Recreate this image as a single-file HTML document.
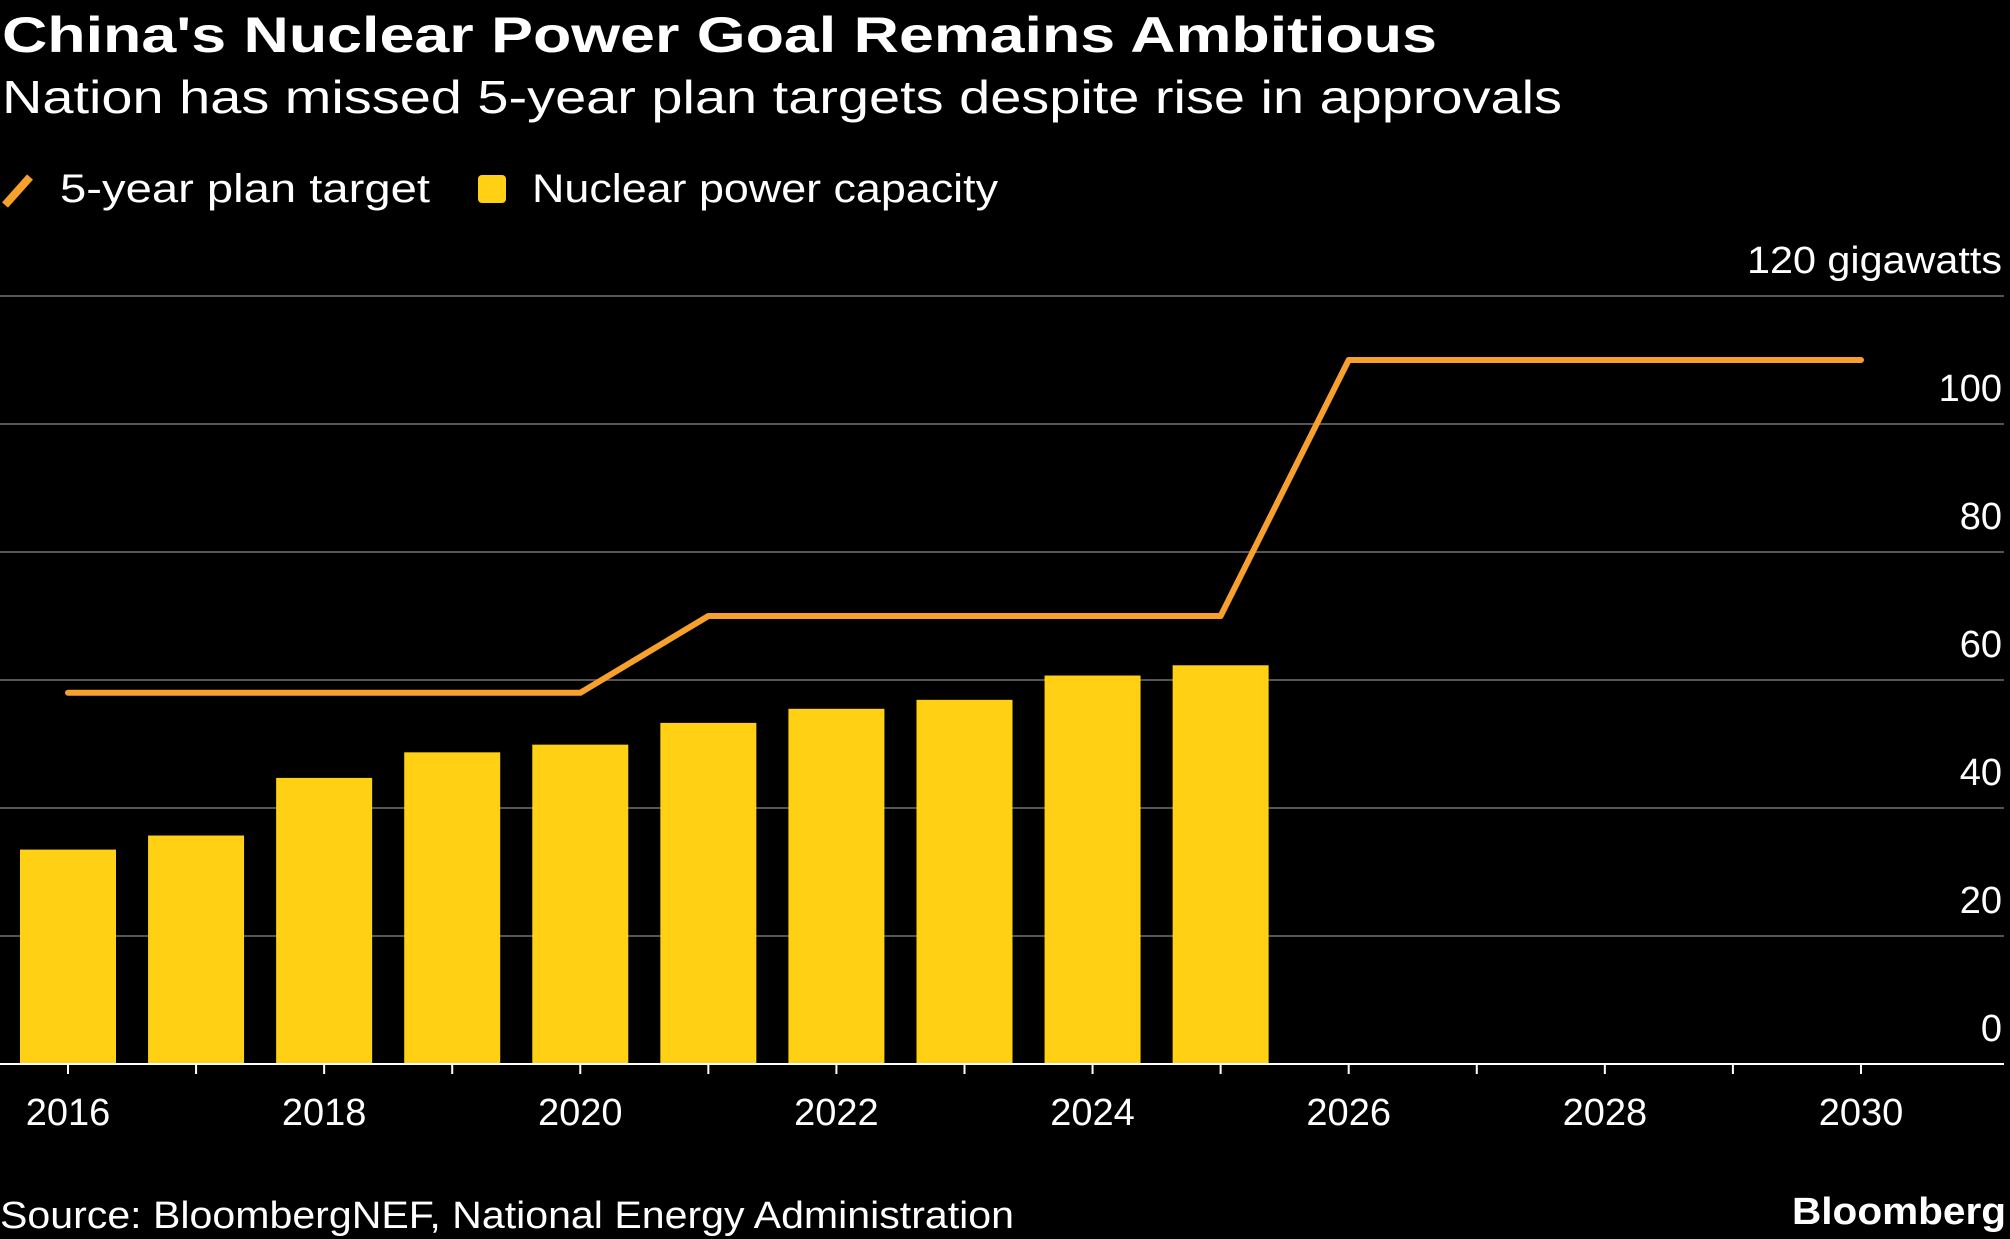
<!DOCTYPE html>
<html><head><meta charset="utf-8"><style>
body{margin:0;background:#000;width:2010px;height:1239px;overflow:hidden;font-family:"Liberation Sans",sans-serif;color:#fff}
svg{position:absolute;left:0;top:0}
</style></head><body>
<svg width="2010" height="1239">
<text x="2" y="52" font-size="50" font-weight="bold" fill="#fff" textLength="1435" lengthAdjust="spacingAndGlyphs">China's Nuclear Power Goal Remains Ambitious</text>
<text x="2" y="113" font-size="46" fill="#fff" textLength="1560" lengthAdjust="spacingAndGlyphs">Nation has missed 5-year plan targets despite rise in approvals</text>
<g>
<line x1="5" y1="205" x2="30" y2="177" stroke="#f7a02c" stroke-width="8"/>
<text x="60" y="202" font-size="40" fill="#fff" textLength="370" lengthAdjust="spacingAndGlyphs">5-year plan target</text>
<rect x="478" y="175" width="28" height="28" rx="4" fill="#ffd014"/>
<text x="532" y="202" font-size="40" fill="#fff" textLength="466" lengthAdjust="spacingAndGlyphs">Nuclear power capacity</text>
</g>
<g id="grid"></g><g id="bars"></g><g id="line"></g><g id="axis"></g>
<text x="0" y="1228" font-size="38" fill="#fff" textLength="1014" lengthAdjust="spacingAndGlyphs">Source: BloombergNEF, National Energy Administration</text>
<text x="2006" y="1224" font-size="38" font-weight="bold" fill="#fff" text-anchor="end" textLength="214" lengthAdjust="spacingAndGlyphs">Bloomberg</text>
</svg>
<script>
const years=[2016,2017,2018,2019,2020,2021,2022,2023,2024,2025];
const capacity=[33.5,35.7,44.7,48.7,49.9,53.3,55.5,56.9,60.7,62.3];
const targetYears=[2016,2020,2021,2025,2026,2030];
const targetValues=[58,58,70,70,110,110];
const yTicks=[0,20,40,60,80,100,120];
const xTicks=[2016,2018,2020,2022,2024,2026,2028,2030];
const NS="http://www.w3.org/2000/svg";
const x=v=>68+(v-2016)*128.07;
const y=v=>1064-v*6.4;
function mk(t,a,p){const e=document.createElementNS(NS,t);for(const k in a)e.setAttribute(k,a[k]);p.appendChild(e);return e;}
const g=document.getElementById('grid');
yTicks.forEach(v=>{
 if(v>0){const l=mk('line',{x1:0,x2:2004,y1:y(v),y2:y(v),stroke:'#555','stroke-width':2},g);
 
 }
 const a={x:2002,y:y(v)-23,'font-size':38,fill:'#fff','text-anchor':'end'};
 if(v===120){a.textLength=255;a.lengthAdjust='spacingAndGlyphs';}
 const t=mk('text',a,g);
 t.textContent=v===120?'120 gigawatts':String(v);
 
 
});
const b=document.getElementById('bars');
years.forEach((yr,i)=>{
 const r=mk('rect',{x:x(yr)-48,y:y(capacity[i]),width:96,height:y(0)-y(capacity[i]),fill:'#ffd014'},b);
 
 
});
const pl=mk('polyline',{points:targetYears.map((yr,i)=>x(yr)+','+y(targetValues[i])).join(' '),fill:'none',stroke:'#f7a02c','stroke-width':6,'stroke-linejoin':'round','stroke-linecap':'round'},document.getElementById('line'));


const ax=document.getElementById('axis');
const al=mk('line',{x1:0,x2:2004,y1:y(0),y2:y(0),stroke:'#fff','stroke-width':2},ax);


for(let yr=2016;yr<=2030;yr++){
 const tk=mk('line',{x1:x(yr),x2:x(yr),y1:y(0),y2:y(0)+10,stroke:'#fff','stroke-width':2},ax);
 
 
}
xTicks.forEach(yr=>{
 const t=mk('text',{x:x(yr),y:1125,'font-size':38,fill:'#fff','text-anchor':'middle'},ax);
 t.textContent=String(yr);
 
 
});
</script>
</body></html>
